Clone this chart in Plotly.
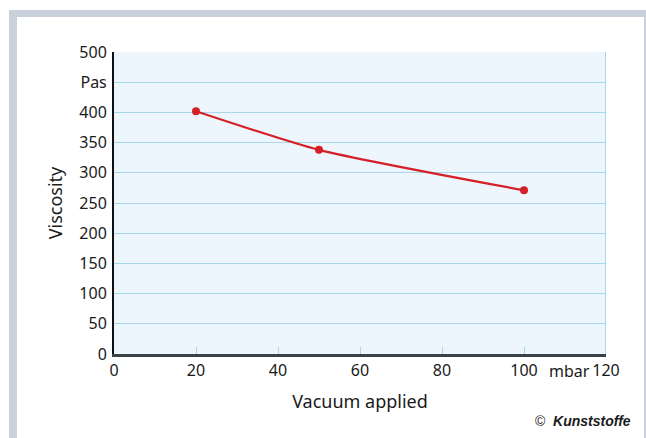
import plotly.graph_objects as go

vacuum = [20, 50, 100]
viscosity = [402, 338, 271]
x_ticks = [0, 20, 40, 60, 80, 100, 120]
y_ticks = [0, 50, 100, 150, 200, 250, 300, 350, 400, 450, 500]
y_labels = ["0", "50", "100", "150", "200", "250", "300", "350", "400", "Pas", "500"]

W, H = 646, 438
L, R, T, B = 114, 40, 52, 84
pw, ph = W - L - R, H - T - B

def px(xp):
    return (xp - L) / pw

def py(yp):
    return (H - B - yp) / ph

fig = go.Figure()
fig.add_trace(go.Scatter(
    x=vacuum, y=viscosity, mode="lines+markers",
    line=dict(color="#d42027", width=2.2, shape="spline", smoothing=0.6),
    marker=dict(color="#d42027", size=8),
    hoverinfo="skip", showlegend=False,
))

font = "Noto Sans"
grid = "#a8d8ee"

fig.update_layout(
    width=W, height=H,
    margin=dict(l=L, r=R, t=T, b=B),
    paper_bgcolor="white", plot_bgcolor="#eef6fd",
    font=dict(family=font, size=16, color="#1a1a1a"),
    xaxis=dict(
        range=[0, 120], tickvals=x_ticks, ticktext=[str(v) for v in x_ticks],
        showgrid=False, zeroline=False,
        ticks="inside", ticklen=7, tickwidth=1, tickcolor=grid,
        showline=True, linecolor="#3a4448", linewidth=2.5,
        title=dict(text="Vacuum applied", font=dict(size=18), standoff=16),
    ),
    yaxis=dict(
        range=[0, 500], tickvals=y_ticks, ticktext=y_labels,
        showgrid=True, gridcolor=grid, gridwidth=1.2, zeroline=False,
        ticks="", ticklabelstandoff=2,
        showline=True, linecolor="#111111", linewidth=2,
        title=dict(text="Viscosity", font=dict(size=18), standoff=12),
    ),
)

fig.add_shape(type="line", xref="x", yref="y", x0=120, x1=120, y0=0, y1=500,
              line=dict(color=grid, width=2), layer="below")

frame = "#c9d2db"
fig.add_shape(type="rect", xref="paper", yref="paper",
              x0=px(9), x1=px(660), y0=py(10), y1=py(17),
              line=dict(width=0), fillcolor=frame)
fig.add_shape(type="rect", xref="paper", yref="paper",
              x0=px(9), x1=px(17), y0=py(10), y1=py(460),
              line=dict(width=0), fillcolor=frame)
fig.add_shape(type="rect", xref="paper", yref="paper",
              x0=px(644), x1=px(660), y0=py(10), y1=py(460),
              line=dict(width=0), fillcolor=frame)

fig.add_annotation(x=111, y=0, xref="x", yref="y", text="mbar", showarrow=False,
                   yanchor="top", yshift=-4, font=dict(size=16))
fig.add_annotation(x=px(633), y=py(421), xref="paper", yref="paper",
                   text="©  <b><i>Kunststoffe</i></b>", showarrow=False,
                   xanchor="right", yanchor="middle",
                   font=dict(size=14, family="Liberation Sans Narrow, Liberation Sans"))

fig.write_html(
    "out.html",
    config={"displayModeBar": False},
    post_script="document.body.style.margin='0';document.body.style.overflow='hidden';",
)
